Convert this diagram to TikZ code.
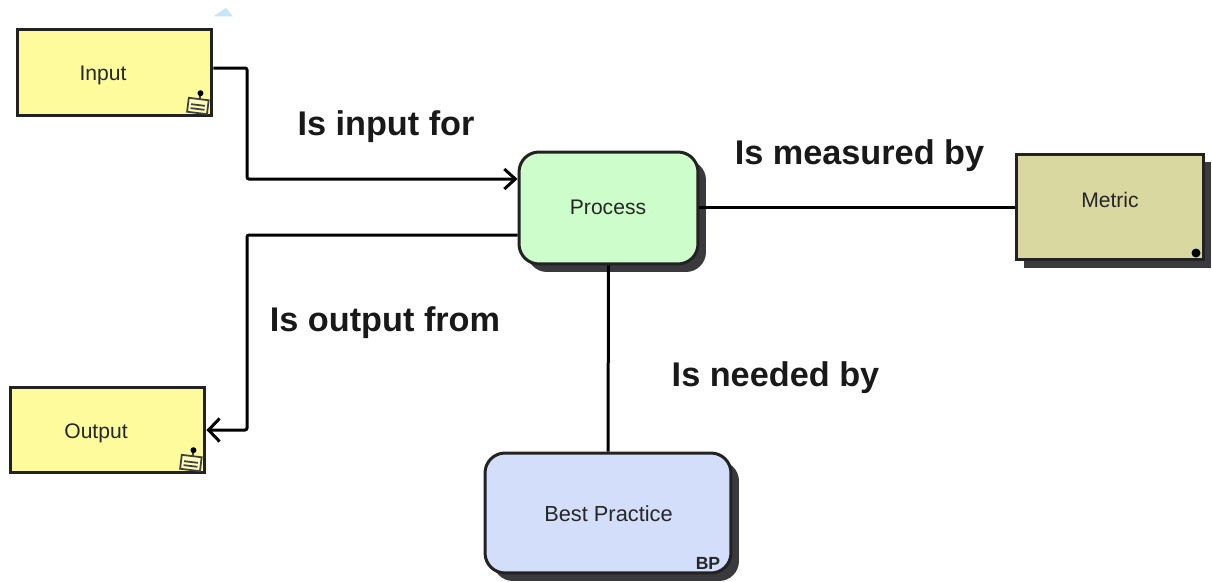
\documentclass[tikz,border=0pt]{standalone}
\usepackage{fontspec}
\setmainfont{Liberation Sans}
\usetikzlibrary{arrows.meta,shadows}
\definecolor{noteyellow}{HTML}{FDFB9B}
\definecolor{procgreen}{HTML}{CDFDCB}
\definecolor{metricolive}{HTML}{D8D8A0}
\definecolor{bpblue}{HTML}{D3DEFB}
\definecolor{boxline}{HTML}{222222}
\definecolor{shadowgray}{HTML}{3A3A3E}
\definecolor{markblue}{HTML}{C5E6F8}
\tikzset{
  boxshadow/.style={drop shadow={shadow xshift=.16cm,shadow yshift=-.16cm,fill=shadowgray,opacity=1}},
  plainbox/.style={draw=boxline,line width=.6mm,fill=noteyellow,inner sep=0pt},
  softbox/.style={plainbox,rounded corners=.4cm,boxshadow},
  boxtext/.style={font=\fontsize{12}{14}\selectfont,inner sep=0pt,text=black!85},
  conn/.style={line width=.6mm,draw=black,rounded corners=.04cm},
  linklabel/.style={font=\bfseries\fontsize{19.5}{22}\selectfont,inner sep=0pt,text=black!90}
}
% little pinned note in the corner of a box
\newcommand\noteicon[1]{%
  \begin{scope}[shift={(#1)},rotate=-7,line width=.35mm,draw=black!75]
    \draw[fill=noteyellow!70!white] (-10,-6) rectangle (10,8);
    \draw (-7,0) -- (7,0) (-7,4) -- (7,4);
    \draw (1,-6) -- (1,-11);
    \fill[black] (1,-12) circle (3);
  \end{scope}}
\begin{document}
\begin{tikzpicture}[x=.02cm,y=-.02cm]
  \useasboundingbox[fill=white] (0,0) rectangle (1212,581);
  \fill[markblue] (213,16.5) -- (226,8) -- (233,16.5) -- cycle;

  \node[plainbox,minimum width=3.9cm,minimum height=1.74cm] (input) at (114.5,72.5) {};
  \node[plainbox,minimum width=3.9cm,minimum height=1.72cm] (output) at (107.5,430) {};
  \node[softbox,fill=procgreen,minimum width=3.58cm,minimum height=2.24cm] (process) at (608.5,208) {};
  \node[plainbox,boxshadow,fill=metricolive,minimum width=3.74cm,minimum height=2.12cm] (metric) at (1109.5,207) {};
  \node[softbox,fill=bpblue,minimum width=4.92cm,minimum height=2.4cm] (bestpractice) at (608,513) {};

  \node[boxtext] (inputtext) at (103,75) {Input};
  \node[boxtext] (outputtext) at (96,433) {Output};
  \node[boxtext] (processtext) at (608,207) {Process};
  \node[boxtext] (metrictext) at (1110,200) {Metric};
  \node[boxtext,font=\fontsize{12.4}{14}\selectfont] (bptext) at (608.5,514) {Best Practice};
  \node[boxtext,font=\bfseries\fontsize{10}{12}\selectfont] (bpmark) at (708,563) {BP};
  \fill[black] (1196,253) circle (4.5) coordinate (metricdot);

  \noteicon{198,105}
  \noteicon{191,462}

  \coordinate (inbend) at (247,179);
  \coordinate (outbend) at (247,235);
  \draw[conn,-{Straight Barb[length=2.2mm,width=4mm]}] ([yshift=.09cm]input.east) -| (inbend) -- (inbend -| process.west);
  \draw[conn,-{Straight Barb[length=2.2mm,width=4.6mm]}] (outbend -| process.west) -- (outbend) |- (output.east);
  \draw[conn] (process.east |- metric.west) -- (metric.west);
  \draw[conn] (process.south) -- (bestpractice.north);

  \node[linklabel] (inputlabel) at (386,127) {Is input for};
  \node[linklabel] (outputlabel) at (385,323) {Is output from};
  \node[linklabel] (measurelabel) at (859.5,156) {Is measured by};
  \node[linklabel] (neededlabel) at (775.5,378) {Is needed by};
\end{tikzpicture}
\end{document}
